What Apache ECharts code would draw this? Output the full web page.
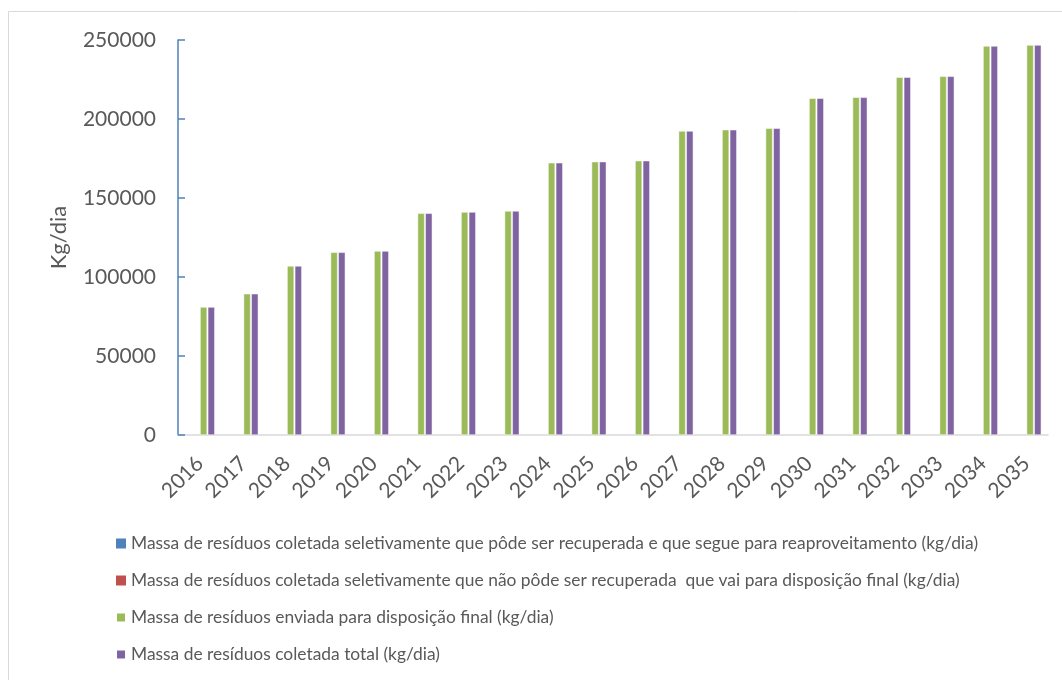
<!DOCTYPE html>
<html>
<head>
<meta charset="utf-8">
<script src="https://cdn.jsdelivr.net/npm/echarts@6/dist/echarts.min.js"></script>
<style>
  html, body { margin: 0; padding: 0; background: #fff; }
  #chart { width: 1062px; height: 680px; }
</style>
</head>
<body>
<div id="chart"></div>
<script>
// anos do horizonte do plano
var anos = ['2016', '2017', '2018', '2019', '2020', '2021', '2022', '2023', '2024', '2025',
  '2026', '2027', '2028', '2029', '2030', '2031', '2032', '2033', '2034', '2035']

var nomes = [
  'Massa de resíduos coletada seletivamente que pôde ser recuperada e que segue para reaproveitamento (kg/dia)',
  'Massa de resíduos coletada seletivamente que não pôde ser recuperada  que vai para disposição final (kg/dia)',
  'Massa de resíduos enviada para disposição final (kg/dia)',
  'Massa de resíduos coletada total (kg/dia)'
]

// valores (kg/dia)
var recuperada = [0, 0, 0, 0, 0, 0, 0, 0, 0, 0, 0, 0, 0, 0, 0, 0, 0, 0, 0, 0]
var naoRecuperada = [0, 0, 0, 0, 0, 0, 0, 0, 0, 0, 0, 0, 0, 0, 0, 0, 0, 0, 0, 0]
var dispFinal = [81000, 89400, 107000, 115600, 116400, 140300, 141100, 141800, 172300, 173000,
  173600, 192400, 193200, 194100, 213100, 213700, 226400, 227000, 246200, 246800]
var total = [81000, 89400, 107000, 115600, 116400, 140300, 141100, 141800, 172300, 173000,
  173600, 192400, 193200, 194100, 213100, 213700, 226400, 227000, 246200, 246800]

var yTicks = [0, 50000, 100000, 150000, 200000, 250000]

var cores = ['#4F81BD', '#C0504D', '#9BBB59', '#8064A2']
var fonte = 'Lato, "Open Sans", sans-serif'

var chart = echarts.init(document.getElementById('chart'))

function serie(nome, dados, borda) {
  return {
    name: nome,
    type: 'bar',
    barWidth: 7,
    barGap: '10%',
    data: dados,
    itemStyle: { borderColor: '#fff', borderWidth: borda }
  }
}

var option = {
  color: cores,
  animation: false,
  graphic: [{
    type: 'rect',
    shape: { x: 8.5, y: 11.5, width: 1100, height: 700 },
    style: { fill: 'none', stroke: '#d9d9d9', lineWidth: 1 },
    silent: true
  }],
  grid: {
    left: 178,
    top: 40,
    right: 14,
    bottom: 245
  },
  legend: {
    orient: 'vertical',
    left: 110,
    top: 530,
    height: 160,
    itemWidth: 10,
    itemHeight: 10,
    itemGap: 20,
    icon: 'rect',
    textStyle: { fontFamily: fonte, fontSize: 17.4, color: '#595959' },
    data: nomes
  },
  xAxis: {
    type: 'category',
    data: anos,
    axisLine: { lineStyle: { color: '#d9d9d9', width: 1.5 } },
    axisTick: { show: false },
    axisLabel: {
      rotate: 45,
      interval: 0,
      margin: 25,
      fontFamily: fonte,
      fontSize: 21,
      color: '#595959'
    }
  },
  yAxis: {
    type: 'value',
    min: yTicks[0],
    max: yTicks[yTicks.length - 1],
    interval: 50000,
    name: 'Kg/dia',
    nameLocation: 'middle',
    nameGap: 108,
    nameTextStyle: { fontFamily: fonte, fontSize: 22, color: '#595959' },
    axisLine: { show: true, lineStyle: { color: '#4F81BD', width: 1.5 } },
    axisTick: { show: true, inside: true, length: 7, lineStyle: { color: '#4F81BD', width: 1.5 } },
    splitLine: { show: false },
    axisLabel: {
      margin: 22,
      fontFamily: fonte,
      fontSize: 21,
      color: '#595959',
      formatter: function (v) { return String(v) }
    }
  },
  series: [
    serie(nomes[0], recuperada, 0),
    serie(nomes[1], naoRecuperada, 0),
    serie(nomes[2], dispFinal, 0.5),
    serie(nomes[3], total, 0.5)
  ]
}

chart.setOption(option)
</script>
</body>
</html>
